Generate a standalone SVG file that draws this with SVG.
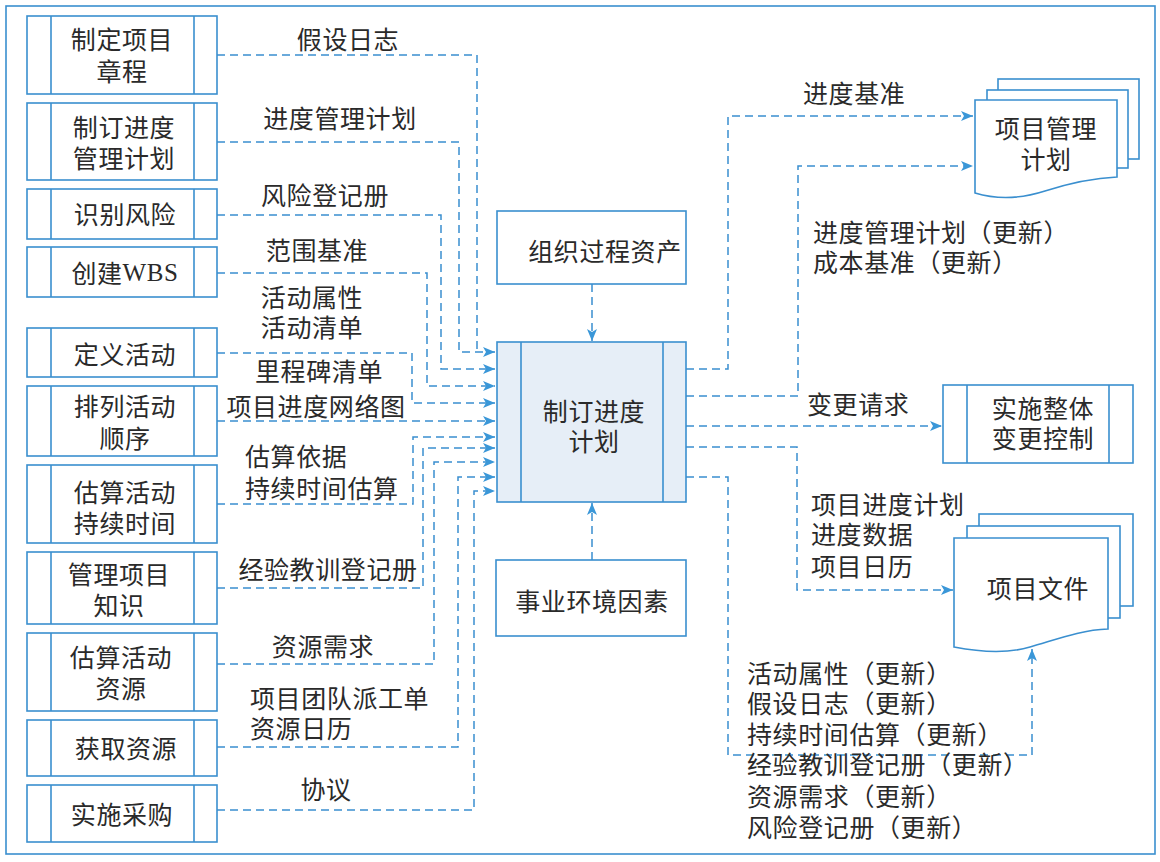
<svg xmlns="http://www.w3.org/2000/svg" width="1160" height="862" viewBox="0 0 1160 862">
<defs>
<style>
.b{fill:#fff;stroke:#3a8fcf;stroke-width:1.6}
.ln{fill:none;stroke:#3a8fcf;stroke-width:1.6}
.c{fill:none;stroke:#3a8fcf;stroke-width:1.5;stroke-dasharray:8 5}
.t{font-family:"Noto Sans CJK SC","Noto Sans",sans-serif;font-size:25px;fill:#2a2a2a;dominant-baseline:central;letter-spacing:0.6px}
.m{text-anchor:middle}
</style>
<marker id="ar" viewBox="0 0 12 10" refX="12" refY="5" markerWidth="12" markerHeight="10" markerUnits="userSpaceOnUse" orient="auto">
<path d="M0,0 L12,5 L0,10 L3,5 Z" fill="#3a97d8"/>
</marker>
</defs>
<rect x="0" y="0" width="1160" height="862" fill="#fff"/>
<rect x="6" y="6" width="1149" height="848" class="ln"/>

<g id="n1"><rect x="27" y="16" width="190" height="78" class="b"/><path d="M51,16V94M194,16V94" class="ln"/><text class="t m" x="122" y="38">制定项目</text><text class="t m" x="122" y="70">章程</text></g>
<g id="n2"><rect x="27" y="103" width="190" height="77" class="b"/><path d="M51,103V180M194,103V180" class="ln"/><text class="t m" x="124" y="126">制订进度</text><text class="t m" x="124" y="157">管理计划</text></g>
<g id="n3"><rect x="27" y="189" width="190" height="50" class="b"/><path d="M51,189V239M194,189V239" class="ln"/><text class="t m" x="125" y="213">识别风险</text></g>
<g id="n4"><rect x="27" y="247" width="190" height="50" class="b"/><path d="M51,247V297M194,247V297" class="ln"/><text class="t m" x="125" y="272">创建<tspan font-family="Liberation Serif,serif">WBS</tspan></text></g>
<g id="n5"><rect x="27" y="328" width="190" height="49" class="b"/><path d="M51,328V377M194,328V377" class="ln"/><text class="t m" x="125" y="353">定义活动</text></g>
<g id="n6"><rect x="27" y="386" width="190" height="70" class="b"/><path d="M51,386V456M194,386V456" class="ln"/><text class="t m" x="125" y="405">排列活动</text><text class="t m" x="125" y="437">顺序</text></g>
<g id="n7"><rect x="27" y="465" width="190" height="78" class="b"/><path d="M51,465V543M194,465V543" class="ln"/><text class="t m" x="125" y="491">估算活动</text><text class="t m" x="125" y="522">持续时间</text></g>
<g id="n8"><rect x="27" y="552" width="190" height="72" class="b"/><path d="M51,552V624M194,552V624" class="ln"/><text class="t m" x="119" y="573">管理项目</text><text class="t m" x="119" y="604">知识</text></g>
<g id="n9"><rect x="27" y="633" width="190" height="78" class="b"/><path d="M51,633V711M194,633V711" class="ln"/><text class="t m" x="121" y="656">估算活动</text><text class="t m" x="121" y="687">资源</text></g>
<g id="n10"><rect x="27" y="720" width="190" height="56" class="b"/><path d="M51,720V776M194,720V776" class="ln"/><text class="t m" x="126" y="747">获取资源</text></g>
<g id="n11"><rect x="27" y="785" width="190" height="57" class="b"/><path d="M51,785V842M194,785V842" class="ln"/><text class="t m" x="122" y="813">实施采购</text></g>

<g id="opa"><rect x="497" y="211" width="189" height="73" class="b"/><text class="t m" x="605" y="250">组织过程资产</text></g>
<g id="eef"><rect x="496" y="560" width="190" height="76" class="b"/><text class="t m" x="592" y="600">事业环境因素</text></g>
<g id="center"><rect x="497" y="342" width="189" height="160" fill="#e6eef7" stroke="#3a8fcf" stroke-width="1.6"/><path d="M521,342V502M663,342V502" class="ln"/><text class="t m" x="594" y="410">制订进度</text><text class="t m" x="594" y="440">计划</text></g>

<g id="pmp">
<rect x="998" y="79" width="141" height="80" class="b"/>
<rect x="987" y="90" width="141" height="78" class="b"/>
<path d="M975,100H1117V177C1095,178 1070,183 1045,191C1020,199 995,199 975,193Z" class="b"/>
<text class="t m" x="1046" y="127">项目管理</text><text class="t m" x="1046" y="158">计划</text>
</g>
<g id="icc"><rect x="943" y="385" width="190" height="78" class="b"/><path d="M967,385V463M1109,385V463" class="ln"/><text class="t m" x="1043" y="407">实施整体</text><text class="t m" x="1043" y="437">变更控制</text></g>
<g id="pd">
<rect x="979" y="514" width="154" height="92" class="b"/>
<rect x="967" y="526" width="153" height="92" class="b"/>
<path d="M954,538H1108V629C1080,630 1055,640 1030,647C1010,653 985,653 954,647Z" class="b"/>
<text class="t m" x="1038" y="587">项目文件</text>
</g>

<g id="connectors">
<path class="c" d="M217,55H477V352"/>
<path class="c" d="M217,142H459V352H495" marker-end="url(#ar)"/>
<path class="c" d="M217,215H441V369H495" marker-end="url(#ar)"/>
<path class="c" d="M217,273H427V386H495" marker-end="url(#ar)"/>
<path class="c" d="M217,353H412V403H495" marker-end="url(#ar)"/>
<path class="c" d="M217,421H495" marker-end="url(#ar)"/>
<path class="c" d="M217,504H413V437H495" marker-end="url(#ar)"/>
<path class="c" d="M217,588H423V448H495" marker-end="url(#ar)"/>
<path class="c" d="M217,664H434V462H495" marker-end="url(#ar)"/>
<path class="c" d="M217,747H458V477H495" marker-end="url(#ar)"/>
<path class="c" d="M217,810H474V491H495" marker-end="url(#ar)"/>
<path class="c" d="M592,284V341" marker-end="url(#ar)"/>
<path class="c" d="M592,560V503" marker-end="url(#ar)"/>
<path class="c" d="M686,369H728V116H973" marker-end="url(#ar)"/>
<path class="c" d="M686,396H798V166H973" marker-end="url(#ar)"/>
<path class="c" d="M686,426H942" marker-end="url(#ar)"/>
<path class="c" d="M686,447H797V590H953" marker-end="url(#ar)"/>
<path class="c" d="M686,477H728V755H1032V649" marker-end="url(#ar)"/>
</g>

<g id="labels">
<text class="t m" x="348" y="38">假设日志</text>
<text class="t m" x="340" y="117">进度管理计划</text>
<text class="t m" x="325" y="194">风险登记册</text>
<text class="t m" x="317" y="249">范围基准</text>
<text class="t m" x="312" y="296">活动属性</text>
<text class="t m" x="312" y="326">活动清单</text>
<text class="t m" x="319" y="370">里程碑清单</text>
<text class="t m" x="316" y="405">项目进度网络图</text>
<text class="t" x="245" y="455">估算依据</text>
<text class="t" x="245" y="487">持续时间估算</text>
<text class="t m" x="328" y="568">经验教训登记册</text>
<text class="t m" x="323" y="645">资源需求</text>
<text class="t" x="250" y="697">项目团队派工单</text>
<text class="t" x="250" y="727">资源日历</text>
<text class="t m" x="326" y="788">协议</text>
<text class="t" x="803" y="92">进度基准</text>
<text class="t" x="813" y="231">进度管理计划（更新）</text>
<text class="t" x="813" y="261">成本基准（更新）</text>
<text class="t" x="807" y="403">变更请求</text>
<text class="t" x="811" y="503">项目进度计划</text>
<text class="t" x="811" y="533">进度数据</text>
<text class="t" x="811" y="565">项目日历</text>
<text class="t" x="747" y="672">活动属性（更新）</text>
<text class="t" x="747" y="702">假设日志（更新）</text>
<text class="t" x="747" y="733">持续时间估算（更新）</text>
<text class="t" x="747" y="763">经验教训登记册（更新）</text>
<text class="t" x="747" y="795">资源需求（更新）</text>
<text class="t" x="747" y="826">风险登记册（更新）</text>
</g>
</svg>
